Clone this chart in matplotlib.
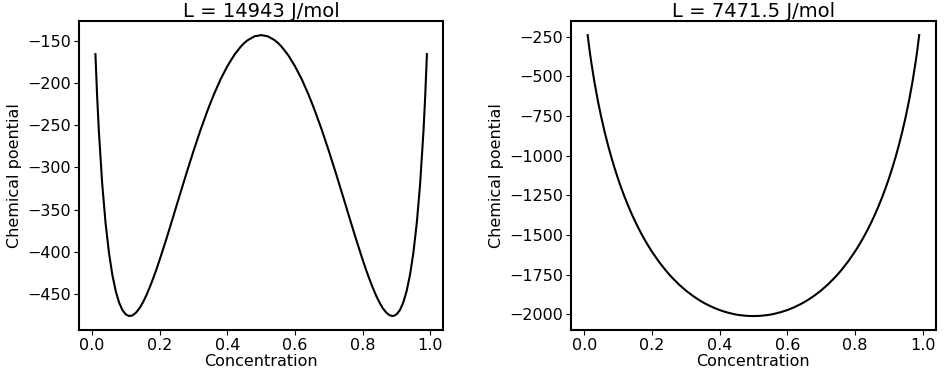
"""
Chemical potential vs concentration for two interaction parameters.
"""

import matplotlib
matplotlib.use("Agg")
import matplotlib.pyplot as plt

# concentration sample points (left half, mirrored for right half)
x_half = [0.01, 0.015, 0.02, 0.03, 0.04, 0.05, 0.06, 0.07, 0.08, 0.09,
          0.10, 0.11, 0.12, 0.13, 0.14, 0.15, 0.16, 0.17, 0.18, 0.19,
          0.20, 0.22, 0.24, 0.25, 0.26, 0.28, 0.30, 0.32, 0.34, 0.35,
          0.36, 0.38, 0.40, 0.42, 0.44, 0.45, 0.46, 0.48]
concentration = x_half + [0.50] + [round(1 - v, 3) for v in reversed(x_half)]

# L = 14943 J/mol
mu_high_half = [-165.5, -215.0, -255.7, -319.2, -366.0, -401.1, -427.3, -446.6,
                -460.2, -469.2, -474.3, -476.2, -475.3, -472.1, -467.1, -460.3,
                -452.1, -442.6, -432.3, -421.2, -409.3, -384.4, -358.2, -345.0,
                -331.8, -305.7, -280.4, -256.3, -234.0, -223.6, -213.6, -195.4,
                -179.9, -166.8, -156.5, -152.4, -149.1, -144.5]
mu_high = mu_high_half + [-143.0] + list(reversed(mu_high_half))

# L = 7471.5 J/mol
mu_low_half = [-239.4, -325.4, -402.2, -536.6, -652.9, -756.0, -848.7, -933.0,
               -1010.1, -1081.1, -1146.8, -1207.6, -1264.3, -1317.2, -1366.6,
               -1412.9, -1456.2, -1496.9, -1535.1, -1571.0, -1604.8, -1666.5,
               -1721.0, -1745.9, -1769.3, -1812.0, -1849.4, -1882.1, -1910.6,
               -1923.3, -1935.1, -1955.7, -1973.0, -1986.8, -1997.4, -2001.6,
               -2005.0, -2009.4]
mu_low = mu_low_half + [-2010.9] + list(reversed(mu_low_half))

titles = ["L = 14943 J/mol", "L = 7471.5 J/mol"]
series = [mu_high, mu_low]

plt.rcParams['font.family'] = ['DejaVu Sans']
fig, axes = plt.subplots(1, 2, figsize=(9.5, 3.76), dpi=100)
fig.subplots_adjust(left=0.083, right=0.985, top=0.944, bottom=0.122, wspace=0.35)

for ax, title, mu in zip(axes, titles, series):
    ax.plot(concentration, mu, color='black', linewidth=1.5)
    ax.set_title(title, fontsize=14, pad=3)
    ax.set_xlabel("Concentration", fontsize=11.5, labelpad=1)
    ax.set_ylabel("Chemical poential", fontsize=11.5, labelpad=4)
    ax.tick_params(labelsize=11.5, pad=2)
    for spine in ax.spines.values():
        spine.set_linewidth(1.5)

axes[0].set_xticks([0.0, 0.2, 0.4, 0.6, 0.8, 1.0])
axes[1].set_xticks([0.0, 0.2, 0.4, 0.6, 0.8, 1.0])
axes[0].set_yticks([-450, -400, -350, -300, -250, -200, -150])
axes[1].set_yticks([-2000, -1750, -1500, -1250, -1000, -750, -500, -250])

fig.savefig("out.png", dpi=100)
